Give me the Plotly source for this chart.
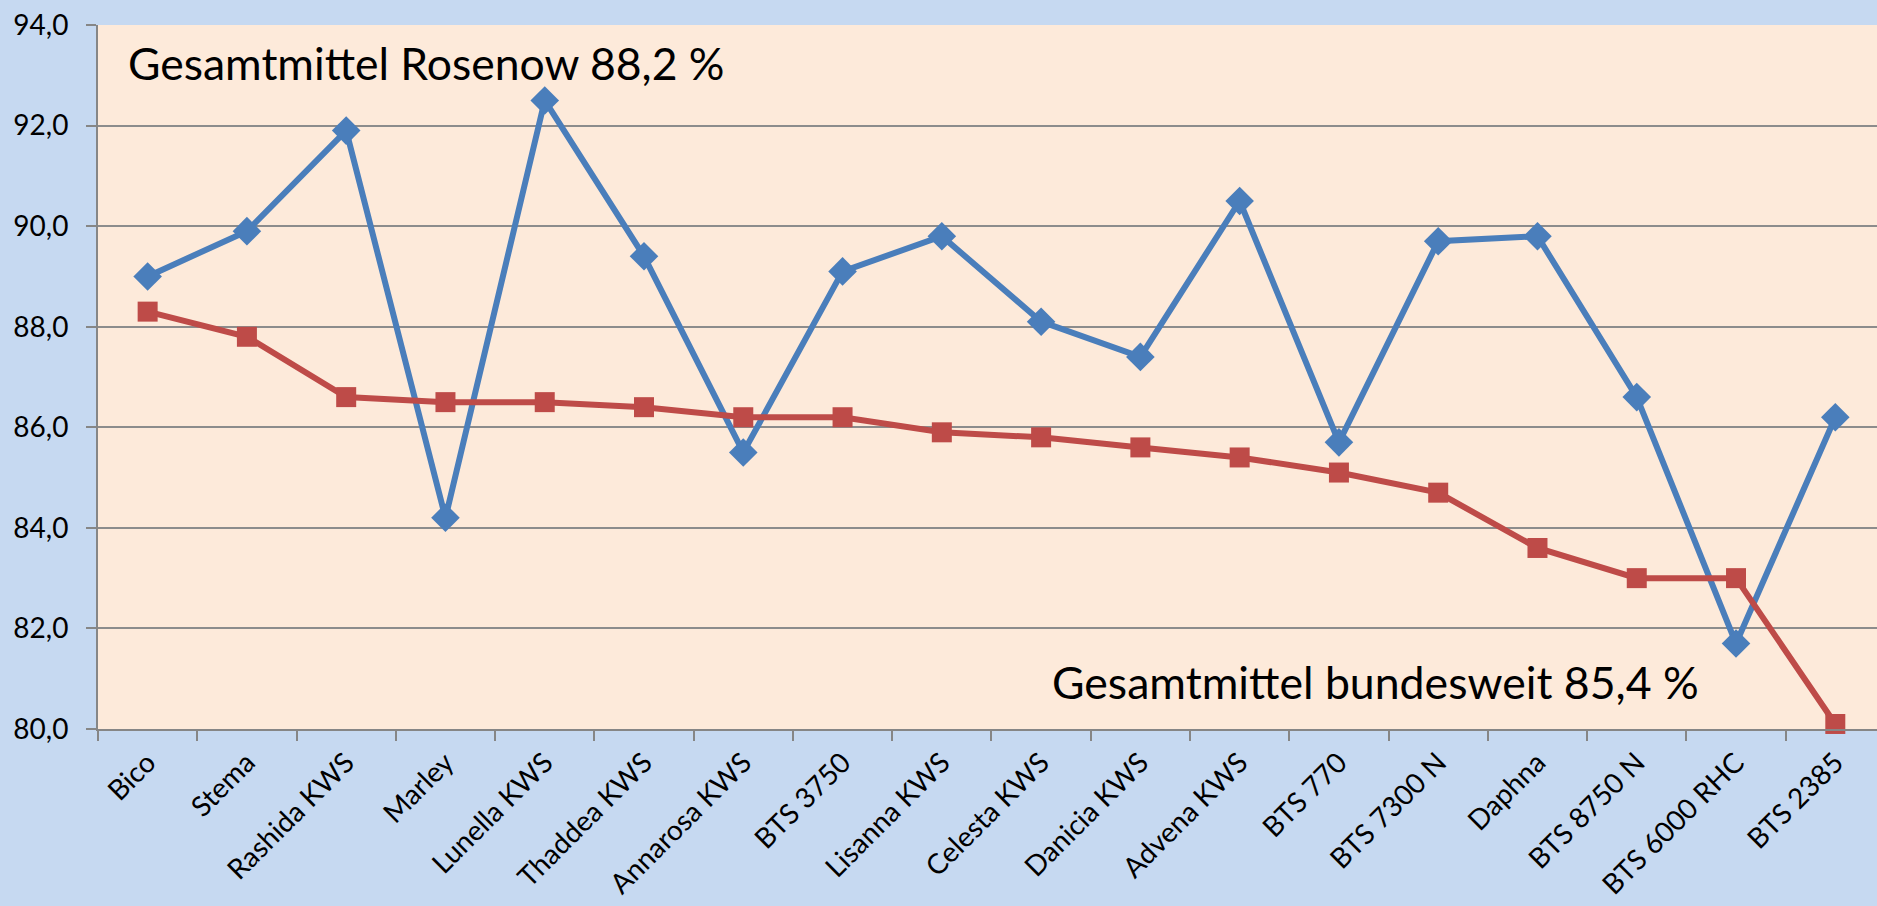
import plotly.graph_objects as go

categories = ["Bico", "Stema", "Rashida KWS", "Marley", "Lunella KWS", "Thaddea KWS",
              "Annarosa KWS", "BTS 3750", "Lisanna KWS", "Celesta KWS", "Danicia KWS",
              "Advena KWS", "BTS 770", "BTS 7300 N", "Daphna", "BTS 8750 N",
              "BTS 6000 RHC", "BTS 2385"]
rosenow = [89.0, 89.9, 91.9, 84.2, 92.5, 89.4, 85.5, 89.1, 89.8, 88.1, 87.4,
           90.5, 85.7, 89.7, 89.8, 86.6, 81.7, 86.2]
bundesweit = [88.3, 87.8, 86.6, 86.5, 86.5, 86.4, 86.2, 86.2, 85.9, 85.8, 85.6,
              85.4, 85.1, 84.7, 83.6, 83.0, 83.0, 80.1]
label_rosenow = "Gesamtmittel Rosenow 88,2 %"
label_bund = "Gesamtmittel bundesweit 85,4 %"

FONT = "Lato"
fig = go.Figure()
fig.add_trace(go.Scatter(
    x=categories, y=rosenow, mode="lines+markers", name="Rosenow",
    line=dict(color="#4A7EBB", width=6),
    marker=dict(symbol="diamond", size=22, color="#4A7EBB"),
    cliponaxis=False,
))
fig.add_trace(go.Scatter(
    x=categories, y=bundesweit, mode="lines+markers", name="bundesweit",
    line=dict(color="#BE4B48", width=6),
    marker=dict(symbol="square", size=20, color="#BE4B48"),
    cliponaxis=False,
))

fig.add_annotation(text=label_rosenow, xref="paper", yref="paper", x=0.0157, y=0.947,
                   xanchor="left", yanchor="middle", showarrow=False,
                   font=dict(family=FONT, size=44.5, color="black"))
fig.add_annotation(text=label_bund, xref="paper", yref="paper", x=0.535, y=0.067,
                   xanchor="left", yanchor="middle", showarrow=False,
                   font=dict(family=FONT, size=44.6, color="black"))

fig.update_layout(
    width=1877, height=906,
    margin=dict(l=98, r=0, t=25, b=177),
    paper_bgcolor="#C6D9F1",
    plot_bgcolor="#FDEADA",
    separators=",.",
    showlegend=False,
    font=dict(family=FONT, size=28, color="black"),
    xaxis=dict(
        type="category", range=[-0.5, 17.42], tickangle=-45,
        tickson="boundaries", ticks="outside", ticklen=10, tickcolor="#868686",
        tickwidth=2, showline=True, linecolor="#868686", linewidth=2,
        showgrid=False, tickfont=dict(family=FONT, size=28),
        ticklabelstandoff=4,
    ),
    yaxis=dict(
        range=[80, 94], dtick=2, tickformat=".1f", ticks="outside", ticklen=10,
        tickcolor="#868686", tickwidth=2, showline=True, linecolor="#868686",
        linewidth=2, showgrid=True, gridcolor="#8C8C8C", gridwidth=2,
        zeroline=False, tickfont=dict(family=FONT, size=28),
        ticklabelstandoff=12,
    ),
)
fig.write_html("out.html", config={"displayModeBar": False},
               post_script="document.body.style.margin='0';document.body.style.overflow='hidden';")
